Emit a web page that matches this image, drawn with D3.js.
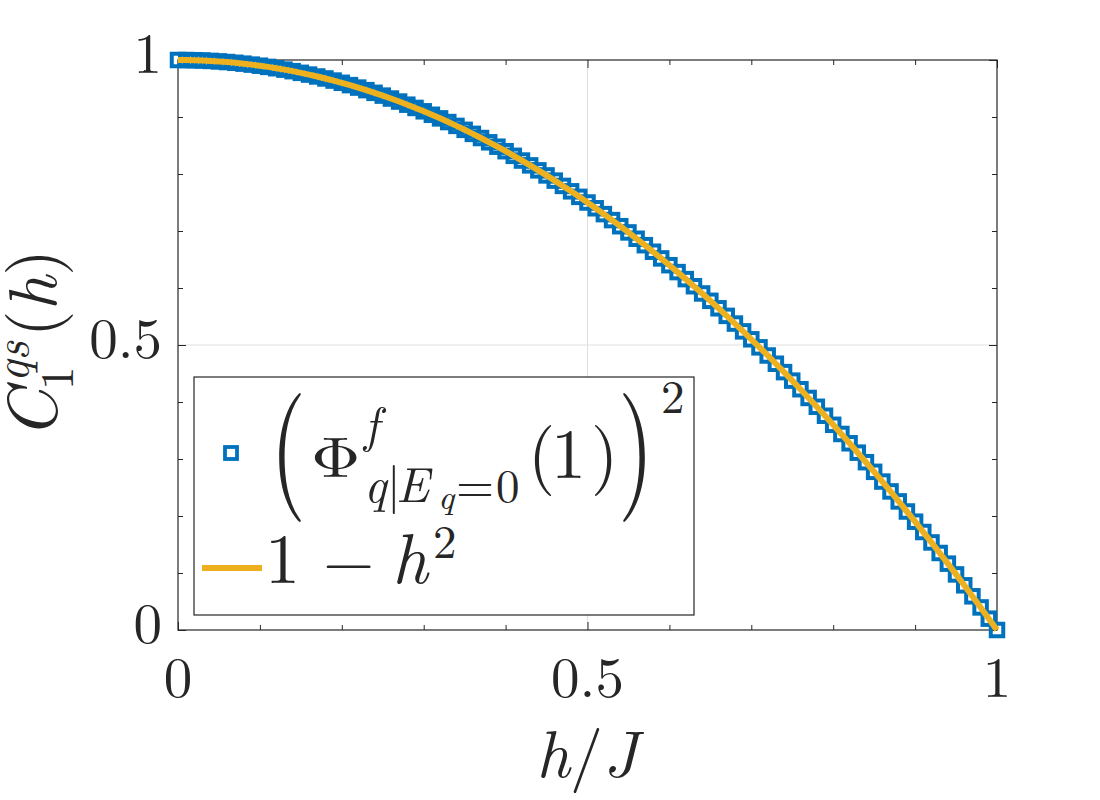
<!DOCTYPE html>
<html>
<head>
<meta charset="utf-8">
<script src="https://cdn.jsdelivr.net/npm/d3@7"></script>
<style>
  html, body { margin: 0; padding: 0; background: #fff; }
  svg { display: block; }
</style>
</head>
<body>
<svg id="chart" width="1100" height="800"></svg>
<script>
// ---- data ----
const hValues = [0,0.01,0.02,0.03,0.04,0.05,0.06,0.07,0.08,0.09,0.10,0.11,0.12,0.13,0.14,0.15,0.16,0.17,0.18,0.19,0.20,0.21,0.22,0.23,0.24,0.25,0.26,0.27,0.28,0.29,0.30,0.31,0.32,0.33,0.34,0.35,0.36,0.37,0.38,0.39,0.40,0.41,0.42,0.43,0.44,0.45,0.46,0.47,0.48,0.49,0.50,0.51,0.52,0.53,0.54,0.55,0.56,0.57,0.58,0.59,0.60,0.61,0.62,0.63,0.64,0.65,0.66,0.67,0.68,0.69,0.70,0.71,0.72,0.73,0.74,0.75,0.76,0.77,0.78,0.79,0.80,0.81,0.82,0.83,0.84,0.85,0.86,0.87,0.88,0.89,0.90,0.91,0.92,0.93,0.94,0.95,0.96,0.97,0.98,0.99,1.00];
const phiSquared = [1,0.9999,0.9996,0.9991,0.9984,0.9975,0.9964,0.9951,0.9936,0.9919,0.99,0.9879,0.9856,0.9831,0.9804,0.9775,0.9744,0.9711,0.9676,0.9639,0.96,0.9559,0.9516,0.9471,0.9424,0.9375,0.9324,0.9271,0.9216,0.9159,0.91,0.9039,0.8976,0.8911,0.8844,0.8775,0.8704,0.8631,0.8556,0.8479,0.84,0.8319,0.8236,0.8151,0.8064,0.7975,0.7884,0.7791,0.7696,0.7599,0.75,0.7399,0.7296,0.7191,0.7084,0.6975,0.6864,0.6751,0.6636,0.6519,0.64,0.6279,0.6156,0.6031,0.5904,0.5775,0.5644,0.5511,0.5376,0.5239,0.51,0.4959,0.4816,0.4671,0.4524,0.4375,0.4224,0.4071,0.3916,0.3759,0.36,0.3439,0.3276,0.3111,0.2944,0.2775,0.2604,0.2431,0.2256,0.2079,0.19,0.1719,0.1536,0.1351,0.1164,0.0975,0.0784,0.0591,0.0396,0.0199,0];
const fitH = hValues;
const fitValues = phiSquared;
const majorTicks = [0, 0.5, 1];
const majorLabels = ["0", "0.5", "1"];
const minorTicks = [0.1,0.2,0.3,0.4,0.6,0.7,0.8,0.9];

// ---- layout ----
const FONT = "'Latin Modern Roman'";
const svg = d3.select("#chart");
const L = 178, R = 997, T = 60, B = 630;
const x = d3.scaleLinear().domain([0, 1]).range([L, R]);
const y = d3.scaleLinear().domain([0, 1]).range([B, T]);
const axisColor = "#262626";

svg.append("rect").attr("width", 1100).attr("height", 800).attr("fill", "#fff");

// grid (major only)
const grid = svg.append("g");
grid.selectAll("line.gx").data(majorTicks.slice(1, -1)).join("line")
  .attr("x1", d => x(d)).attr("x2", d => x(d)).attr("y1", T).attr("y2", B)
  .attr("stroke", "#dfdfdf").attr("stroke-width", 1);
grid.selectAll("line.gy").data(majorTicks.slice(1, -1)).join("line")
  .attr("y1", d => y(d)).attr("y2", d => y(d)).attr("x1", L).attr("x2", R)
  .attr("stroke", "#dfdfdf").attr("stroke-width", 1);

// axes with inward ticks
function styleAxis(g) {
  g.select(".domain").remove();
  g.selectAll(".tick line").attr("stroke", axisColor).attr("stroke-width", 1);
  g.selectAll(".tick text").remove();
}
const noFmt = () => "";
svg.append("g").attr("transform", `translate(0,${B})`).call(d3.axisBottom(x).tickValues(minorTicks).tickSize(-5).tickFormat(noFmt)).call(styleAxis);
svg.append("g").attr("transform", `translate(0,${B})`).call(d3.axisBottom(x).tickValues(majorTicks).tickSize(-8).tickFormat(noFmt)).call(styleAxis);
svg.append("g").attr("transform", `translate(0,${T})`).call(d3.axisTop(x).tickValues(minorTicks).tickSize(-5).tickFormat(noFmt)).call(styleAxis);
svg.append("g").attr("transform", `translate(0,${T})`).call(d3.axisTop(x).tickValues(majorTicks).tickSize(-8).tickFormat(noFmt)).call(styleAxis);
svg.append("g").attr("transform", `translate(${L},0)`).call(d3.axisLeft(y).tickValues(minorTicks).tickSize(-5).tickFormat(noFmt)).call(styleAxis);
svg.append("g").attr("transform", `translate(${L},0)`).call(d3.axisLeft(y).tickValues(majorTicks).tickSize(-8).tickFormat(noFmt)).call(styleAxis);
svg.append("g").attr("transform", `translate(${R},0)`).call(d3.axisRight(y).tickValues(minorTicks).tickSize(-5).tickFormat(noFmt)).call(styleAxis);
svg.append("g").attr("transform", `translate(${R},0)`).call(d3.axisRight(y).tickValues(majorTicks).tickSize(-8).tickFormat(noFmt)).call(styleAxis);

// box
svg.append("rect").attr("x", L).attr("y", T).attr("width", R - L).attr("height", B - T)
  .attr("fill", "none").attr("stroke", axisColor).attr("stroke-width", 1.2);

function txt(parent, s, xx, yy, size, italic) {
  return parent.append("text").attr("x", xx).attr("y", yy).attr("font-size", size)
    .attr("font-family", FONT).attr("fill", axisColor)
    .attr("font-style", italic ? "italic" : "normal").text(s);
}

// tick labels
svg.selectAll("text.xt").data(majorTicks).join("text").attr("class", "xt")
  .attr("x", d => x(d)).attr("y", B + 67).attr("text-anchor", "middle")
  .attr("font-family", FONT).attr("fill", axisColor)
  .attr("font-size", 57).text((d, i) => majorLabels[i]);
svg.selectAll("text.yt").data(majorTicks).join("text").attr("class", "yt")
  .attr("x", L - 16).attr("y", d => y(d) + 13).attr("text-anchor", "end")
  .attr("font-family", FONT).attr("fill", axisColor)
  .attr("font-size", 57).text((d, i) => majorLabels[i]);

// markers
const ms = 12.5;
svg.append("g").selectAll("rect").data(hValues).join("rect")
  .attr("x", (d, i) => x(d) - ms / 2).attr("y", (d, i) => y(phiSquared[i]) - ms / 2)
  .attr("width", ms).attr("height", ms)
  .attr("fill", "none").attr("stroke", "#0072BD").attr("stroke-width", 4);

// line
svg.append("path").datum(fitH.map((h, i) => [h, fitValues[i]]))
  .attr("d", d3.line().x(d => x(d[0])).y(d => y(d[1])))
  .attr("fill", "none").attr("stroke", "#EDB120").attr("stroke-width", 6);

// x label
const xl = svg.append("text").attr("x", 587).attr("y", 777).attr("text-anchor", "middle")
  .attr("font-size", 66).attr("font-family", FONT).attr("fill", axisColor);
xl.append("tspan").attr("font-style", "italic").text("h");
xl.append("tspan").text("/");
xl.append("tspan").attr("font-style", "italic").text("J");

// y label (rotated)
const yl = svg.append("g").attr("transform", "translate(56,436) rotate(-90)");
txt(yl, "C", -3, 0, 70, true);
txt(yl, "1", 46, 17, 47, false);
txt(yl, "qs", 54, -28, 47, true);
const yh = yl.append("text").attr("x", 99).attr("y", 0).attr("font-size", 68)
  .attr("font-family", FONT).attr("fill", axisColor);
yh.append("tspan").text("(");
yh.append("tspan").attr("font-style", "italic").text("h");
yh.append("tspan").text(")");

// legend
const lg = svg.append("g");
lg.append("rect").attr("x", 194).attr("y", 377).attr("width", 500).attr("height", 238)
  .attr("fill", "#fff").attr("stroke", axisColor).attr("stroke-width", 1.2);
lg.append("rect").attr("x", 231 - 6).attr("y", 453 - 6).attr("width", 12).attr("height", 12)
  .attr("fill", "none").attr("stroke", "#0072BD").attr("stroke-width", 3.8);
lg.append("line").attr("x1", 202).attr("x2", 262).attr("y1", 568).attr("y2", 568)
  .attr("stroke", "#EDB120").attr("stroke-width", 6);

// row 1: ( Φ^f_{q|E_q=0}(1) )^2
lg.append("text").attr("transform", "translate(270,490) scale(0.72,1)").attr("font-size", 129)
  .attr("font-family", FONT).attr("fill", axisColor).text("(");
lg.append("text").attr("transform", "translate(618,490) scale(0.72,1)").attr("font-size", 129)
  .attr("font-family", FONT).attr("fill", axisColor).text(")");
lg.append("text").attr("transform", "translate(311,477) scale(1.2,1)").attr("font-size", 57)
  .attr("font-family", FONT).attr("fill", axisColor).text("\u03A6");
txt(lg, "f", 364, 442, 49, true);
txt(lg, "q", 364, 502, 49, true);
txt(lg, "|", 387, 502, 49, false);
txt(lg, "E", 396, 502, 49, true);
txt(lg, "q", 438, 509, 35, true);
txt(lg, "=", 456, 502, 49, false);
txt(lg, "0", 496, 502, 47, false);
txt(lg, "(", 528, 478, 70, false);
txt(lg, "1", 551, 478, 70, false);
txt(lg, ")", 591, 478, 70, false);
txt(lg, "2", 661, 413, 47, false);
// row 2: 1 − h^2
txt(lg, "1", 265, 583, 70, false);
txt(lg, "\u2212", 323, 583, 66, false);
txt(lg, "h", 392, 583, 70, true);
txt(lg, "2", 433, 558, 47, false);
</script>
</body>
</html>
